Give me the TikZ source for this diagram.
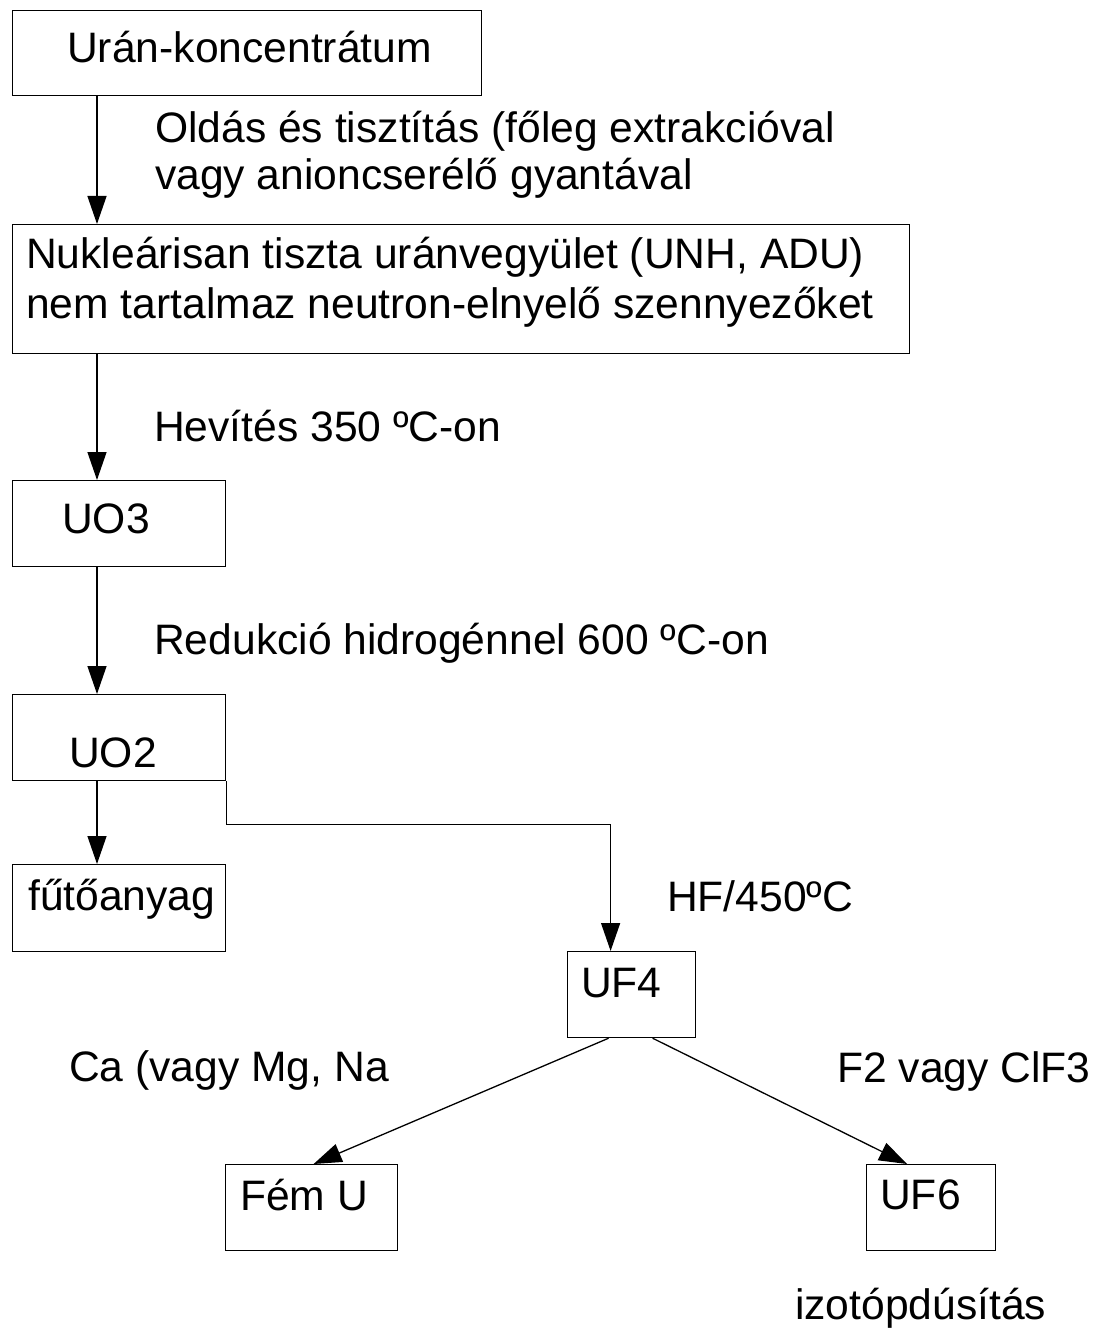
\documentclass[tikz,border=0pt]{standalone}
\usepackage{fontspec}
\setmainfont{Liberation Sans}
\usetikzlibrary{arrows.meta}

\begin{document}
\begin{tikzpicture}[x=1pt,y=-1pt]
	\tikzstyle{box}=[draw=black, line width=1.2pt, anchor=north west, inner sep=0pt]
	\tikzstyle{txt}=[anchor=base west, inner sep=0pt, align=left, font=\fontsize{42.6}{50}\selectfont]
	\tikzstyle{arr}=[-{Triangle[length=28pt,width=19pt]}, line width=1.3pt]
	\useasboundingbox (0,0) rectangle (1093,1329);

	\node[box, minimum width=469pt, minimum height=85pt](uran) at (12,10) {};
	\node[box, minimum width=897pt, minimum height=129pt](nuk) at (12,224) {};
	\node[box, minimum width=213pt, minimum height=86pt](uo3) at (12,480) {};
	\node[box, minimum width=213pt, minimum height=86pt](uo2) at (12,694) {};
	\node[box, minimum width=213pt, minimum height=87pt](futo) at (12,864) {};
	\node[box, minimum width=128pt, minimum height=86pt](uf4) at (567,951) {};
	\node[box, minimum width=172pt, minimum height=86pt](femu) at (225,1164) {};
	\node[box, minimum width=129pt, minimum height=86pt](uf6) at (866,1164) {};

	\node[txt](uranT) at (67,63) {Urán-koncentrátum};
	\node[txt](nukT) at (26,318) {Nukleárisan tiszta uránvegyület (UNH, ADU)\\nem tartalmaz neutron-elnyelő szennyezőket};
	\node[txt](uo3T) at (62,533) {UO3};
	\node[txt](uo2T) at (69,767) {UO2};
	\node[txt](futoT) at (28,910) {fűtőanyag};
	\node[txt](uf4T) at (581,997) {UF4};
	\node[txt](femuT) at (240,1210) {Fém U};
	\node[txt](uf6T) at (880,1209) {UF6};

	\node[txt, font=\fontsize{42.6}{47}\selectfont](oldas) at (155,190) {Oldás és tisztítás (főleg extrakcióval\\vagy anioncserélő gyantával};
	\node[txt](hevites) at (154,441) {Hevítés 350 ºC-on};
	\node[txt](redukcio) at (154,654) {Redukció hidrogénnel 600 ºC-on};
	\node[txt](hf) at (667,911) {HF/450ºC};
	\node[txt](ca) at (69,1081) {Ca (vagy Mg, Na};
	\node[txt](fluor) at (837,1082) {F2 vagy ClF3};
	\node[txt](izotop) at (795,1319) {izotópdúsítás};

	\draw[arr] ([xshift=85pt]uran.south west) -- ([xshift=85pt]nuk.north west);
	\draw[arr] ([xshift=85pt]nuk.south west) -- ([xshift=85pt]uo3.north west);
	\draw[arr] ([xshift=85pt]uo3.south west) -- ([xshift=85pt]uo2.north west);
	\draw[arr] ([xshift=85pt]uo2.south west) -- ([xshift=85pt]futo.north west);
	\draw[arr] (uo2.south east) -- ++(0,43) -| ([xshift=-21pt]uf4.north);
	\draw[arr] ([xshift=-23pt]uf4.south) -- ([xshift=2pt]femu.north);
	\draw[arr] ([xshift=21pt]uf4.south) -- ([xshift=-24pt]uf6.north);
\end{tikzpicture}
\end{document}
